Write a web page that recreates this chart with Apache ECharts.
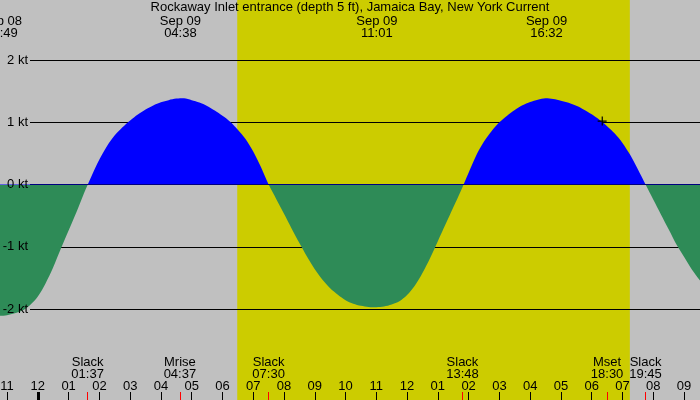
<!DOCTYPE html>
<html><head><meta charset="utf-8">
<script src="https://cdn.jsdelivr.net/npm/echarts@6/dist/echarts.min.js"></script>
<style>html,body{margin:0;padding:0;background:#c0c0c0}#c{width:700px;height:400px}</style>
</head><body><div id="c"></div>
<script>
// ---- data (time = hours relative to Sep 09 00:00) ----
const titleText = 'Rockaway Inlet entrance (depth 5 ft), Jamaica Bay, New York Current';
const viewStart = -1.23;
const viewEnd = 21.52;
const curveTimes = [-1.25, -1, -0.75, -0.5, -0.25, 0, 0.25, 0.5, 0.75, 1, 1.25, 1.5, 1.75, 2, 2.25, 2.5, 2.75,
  3, 3.25, 3.5, 3.75, 4, 4.25, 4.5, 4.75, 5, 5.25, 5.5, 5.75, 6, 6.25, 6.5, 6.75, 7, 7.25, 7.5, 7.75,
  8, 8.25, 8.5, 8.75, 9, 9.25, 9.5, 9.75, 10, 10.25, 10.5, 10.75, 11, 11.25, 11.5, 11.75, 12, 12.25,
  12.5, 12.75, 13, 13.25, 13.5, 13.75, 14, 14.25, 14.5, 14.75, 15, 15.25, 15.5, 15.75, 16, 16.25, 16.5,
  16.75, 17, 17.25, 17.5, 17.75, 18, 18.25, 18.5, 18.75, 19, 19.25, 19.5, 19.75, 20, 20.25, 20.5, 20.75,
  21, 21.25, 21.5, 21.75];
const curveValues = [-2.11, -2.10, -2.07, -2.025, -1.935, -1.80, -1.59, -1.33, -1.03, -0.74, -0.45, -0.14, 0.14,
  0.40, 0.62, 0.79, 0.92, 1.03, 1.125, 1.205, 1.27, 1.32, 1.355, 1.38, 1.385, 1.355, 1.318, 1.263, 1.19,
  1.105, 1.01, 0.88, 0.73, 0.53, 0.28, 0, -0.235, -0.47, -0.71, -0.94, -1.16, -1.36, -1.53, -1.665, -1.77,
  -1.858, -1.915, -1.948, -1.966, -1.97, -1.96, -1.928, -1.875, -1.775, -1.625, -1.42, -1.18, -0.91, -0.64,
  -0.37, -0.10, 0.19, 0.47, 0.69, 0.86, 1.0, 1.105, 1.198, 1.272, 1.325, 1.362, 1.387, 1.373, 1.347,
  1.312, 1.264, 1.202, 1.127, 1.039, 0.937, 0.818, 0.668, 0.476, 0.245, 0, -0.24, -0.48, -0.72, -0.96,
  -1.16, -1.36, -1.53, -1.665];
const hourTicks = [-1, 0, 1, 2, 3, 4, 5, 6, 7, 8, 9, 10, 11, 12, 13, 14, 15, 16, 17, 18, 19, 20, 21];
const hourLabels = ['11', '12', '01', '02', '03', '04', '05', '06', '07', '08', '09', '10', '11', '12',
  '01', '02', '03', '04', '05', '06', '07', '08', '09'];
const midnightTicks = [0];
const speedTicks = [-2, -1, 0, 1, 2];
const peakTimes = [-1.183, 4.633, 11.017, 16.533];
const peakDates = ['Sep 08', 'Sep 09', 'Sep 09', 'Sep 09'];
const peakClock = ['22:49', '04:38', '11:01', '16:32'];
const eventTimes = [1.617, 4.617, 7.5, 13.8, 18.5, 19.75];
const eventNames = ['Slack', 'Mrise', 'Slack', 'Slack', 'Mset', 'Slack'];
const eventClock = ['01:37', '04:37', '07:30', '13:48', '18:30', '19:45'];
const daylight = [6.48, 19.24];
const nowTimes = [18.34];
const nowValues = [1.02];

// ---- layout / style ----
const FONT = '"Liberation Sans", Arial, Helvetica, sans-serif';
const yTop = 2.964, yBottom = -3.462;
function idx(arr, v) {
  let best = 0;
  for (let i = 1; i < arr.length; i++) if (Math.abs(arr[i] - v) < Math.abs(arr[best] - v)) best = i;
  return best;
}
const txt = { color: '#000', fontSize: 13, fontFamily: FONT, lineHeight: 12 };
const noLine = { show: false, onZero: false };

const chart = echarts.init(document.getElementById('c'), null, { renderer: 'canvas' });
chart.setOption({
  backgroundColor: '#c0c0c0',
  animation: false,
  title: {
    text: titleText, left: 'center', top: 1.5, padding: 0,
    textStyle: Object.assign({ fontWeight: 'normal' }, txt)
  },
  grid: [
    { left: 0, right: 0, top: 0, bottom: 0, containLabel: false, outerBoundsMode: 'none' },
    { left: 30, right: 0, top: 60, bottom: 91, containLabel: false, outerBoundsMode: 'none' }
  ],
  xAxis: [
    { gridIndex: 0, type: 'value', min: viewStart, max: viewEnd, position: 'bottom', z: 5,
      axisLine: noLine, splitLine: { show: false },
      axisTick: { show: true, inside: true, length: 8, customValues: hourTicks, lineStyle: { color: '#000', width: 1 } },
      axisLabel: Object.assign({ show: true, inside: true, margin: 8, interval: 0, customValues: hourTicks,
        formatter: v => hourLabels[idx(hourTicks, v)] }, txt) },
    { gridIndex: 0, type: 'value', min: viewStart, max: viewEnd, position: 'bottom', z: 6,
      axisLine: noLine, splitLine: { show: false },
      axisTick: { show: true, inside: true, length: 8, customValues: eventTimes, lineStyle: { color: '#ff0000', width: 1 } },
      axisLabel: Object.assign({ show: true, inside: true, margin: 20, interval: 0, customValues: eventTimes,
        formatter: v => { const i = idx(eventTimes, v); return eventNames[i] + '\n' + eventClock[i]; } }, txt) },
    { gridIndex: 0, type: 'value', min: viewStart, max: viewEnd, position: 'bottom', z: 6,
      axisLine: noLine, splitLine: { show: false },
      axisTick: { show: true, inside: true, length: 8, customValues: midnightTicks, lineStyle: { color: '#000', width: 3 } },
      axisLabel: { show: false } },
    { gridIndex: 0, type: 'value', min: viewStart, max: viewEnd, position: 'top', z: 6,
      axisLine: noLine, splitLine: { show: false }, axisTick: { show: false },
      axisLabel: Object.assign({ show: true, inside: true, margin: 15, interval: 0, customValues: peakTimes,
        formatter: v => { const i = idx(peakTimes, v); return peakDates[i] + '\n' + peakClock[i]; } }, txt) },
    { gridIndex: 1, type: 'value', min: viewStart, max: viewEnd, show: false, axisLine: noLine }
  ],
  yAxis: [
    { gridIndex: 0, type: 'value', min: yBottom, max: yTop, show: false, axisLine: noLine },
    { gridIndex: 1, type: 'value', min: speedTicks[0], max: speedTicks[speedTicks.length - 1], interval: 1, z: 2,
      axisLine: noLine, axisTick: { show: false }, axisLabel: { show: false },
      splitLine: { show: true, lineStyle: { color: '#000', width: 1 } } },
    { gridIndex: 1, type: 'value', min: speedTicks[0], max: speedTicks[speedTicks.length - 1], interval: 1, z: 6,
      position: 'left', axisLine: noLine, axisTick: { show: false }, splitLine: { show: false },
      axisLabel: Object.assign({ show: true, margin: 2, formatter: v => v + ' kt' }, txt) }
  ],
  visualMap: {
    type: 'piecewise', show: false, seriesIndex: 0, dimension: 1,
    pieces: [{ gt: 0, lte: 100, color: '#0000ff' }, { gt: -100, lte: 0, color: '#2e8b57' }]
  },
  series: [
    { type: 'line', xAxisIndex: 0, yAxisIndex: 0, z: 3, smooth: 0.3, showSymbol: false, silent: true,
      data: curveTimes.map((t, i) => [t, curveValues[i]]),
      lineStyle: { width: 0, opacity: 0 }, areaStyle: { opacity: 1 },
      markArea: { silent: true, z: 1, label: { show: false }, itemStyle: { color: '#cccc00' },
        data: [[{ xAxis: daylight[0] }, { xAxis: daylight[1] }]] } },
    { type: 'scatter', xAxisIndex: 0, yAxisIndex: 0, z: 7, silent: true,
      data: nowTimes.map((t, i) => [t, nowValues[i]]),
      symbol: 'path://M4,0h1.2v9h-1.2zM0,4h9v1.2h-9z', symbolSize: 9, itemStyle: { color: '#000', opacity: 1 } }
  ]
});
</script>
</body></html>
